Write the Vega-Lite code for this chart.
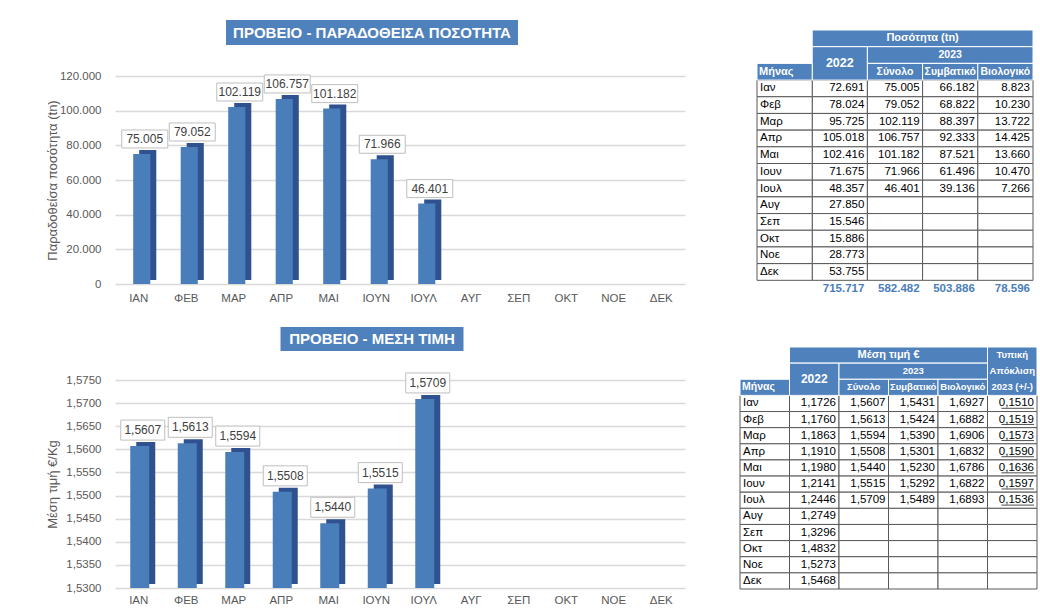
{
  "$schema": "https://vega.github.io/schema/vega-lite/v6.json",
  "background": "white",
  "padding": {"left": 46, "top": 20, "right": 0, "bottom": 0},
  "config": {
    "locale": {"number": {"decimal": ",", "thousands": ".", "grouping": [3], "currency": ["", "€"]}},
    "font": "Liberation Sans",
    "view": {"stroke": null},
    "axis": {"labelColor": "#595959", "titleColor": "#595959", "labelFontSize": 11.5, "titleFontSize": 13, "titleFontWeight": "normal", "domain": false, "ticks": false, "gridColor": "#d9d9d9", "gridWidth": 1.5}
  },
  "datasets": {
    "qty": [
      {"month": "ΙΑΝ", "value": 75005}, {"month": "ΦΕΒ", "value": 79052}, {"month": "ΜΑΡ", "value": 102119},
      {"month": "ΑΠΡ", "value": 106757}, {"month": "ΜΑΙ", "value": 101182}, {"month": "ΙΟΥΝ", "value": 71966},
      {"month": "ΙΟΥΛ", "value": 46401}
    ],
    "price": [
      {"month": "ΙΑΝ", "value": 1.5607}, {"month": "ΦΕΒ", "value": 1.5613}, {"month": "ΜΑΡ", "value": 1.5594},
      {"month": "ΑΠΡ", "value": 1.5508}, {"month": "ΜΑΙ", "value": 1.544}, {"month": "ΙΟΥΝ", "value": 1.5515},
      {"month": "ΙΟΥΛ", "value": 1.5709}
    ],
    "t1": [
      {"m": "Ιαν", "2022": 72691, "Σύνολο": 75005, "Συμβατικό": 66182, "Βιολογικό": 8823},
      {"m": "Φεβ", "2022": 78024, "Σύνολο": 79052, "Συμβατικό": 68822, "Βιολογικό": 10230},
      {"m": "Μαρ", "2022": 95725, "Σύνολο": 102119, "Συμβατικό": 88397, "Βιολογικό": 13722},
      {"m": "Απρ", "2022": 105018, "Σύνολο": 106757, "Συμβατικό": 92333, "Βιολογικό": 14425},
      {"m": "Μαι", "2022": 102416, "Σύνολο": 101182, "Συμβατικό": 87521, "Βιολογικό": 13660},
      {"m": "Ιουν", "2022": 71675, "Σύνολο": 71966, "Συμβατικό": 61496, "Βιολογικό": 10470},
      {"m": "Ιουλ", "2022": 48357, "Σύνολο": 46401, "Συμβατικό": 39136, "Βιολογικό": 7266},
      {"m": "Αυγ", "2022": 27850, "Σύνολο": null, "Συμβατικό": null, "Βιολογικό": null},
      {"m": "Σεπ", "2022": 15546, "Σύνολο": null, "Συμβατικό": null, "Βιολογικό": null},
      {"m": "Οκτ", "2022": 15886, "Σύνολο": null, "Συμβατικό": null, "Βιολογικό": null},
      {"m": "Νοε", "2022": 28773, "Σύνολο": null, "Συμβατικό": null, "Βιολογικό": null},
      {"m": "Δεκ", "2022": 53755, "Σύνολο": null, "Συμβατικό": null, "Βιολογικό": null}
    ],
    "t1tot": [
      {"col": "2022", "v": 715717}, {"col": "Σύνολο", "v": 582482}, {"col": "Συμβατικό", "v": 503886}, {"col": "Βιολογικό", "v": 78596}
    ],
    "t1head": [
      {"c1": "2022", "c2": "Βιολογικό", "r1": "h1", "r2": "h1"},
      {"c1": "2022", "c2": "2022", "r1": "h2", "r2": "h3"},
      {"c1": "Σύνολο", "c2": "Βιολογικό", "r1": "h2", "r2": "h2"},
      {"c1": "Μήνας", "c2": "Μήνας", "r1": "h3", "r2": "h3"},
      {"c1": "Σύνολο", "c2": "Σύνολο", "r1": "h3", "r2": "h3"},
      {"c1": "Συμβατικό", "c2": "Συμβατικό", "r1": "h3", "r2": "h3"},
      {"c1": "Βιολογικό", "c2": "Βιολογικό", "r1": "h3", "r2": "h3"}
    ],
    "t1htext": [
      {"label": "2023", "c": "Συμβατικό", "r": "h2"},
      {"label": "Σύνολο", "c": "Σύνολο", "r": "h3"},
      {"label": "Συμβατικό", "c": "Συμβατικό", "r": "h3"},
      {"label": "Βιολογικό", "c": "Βιολογικό", "r": "h3"}
    ],
    "t2": [
      {"m": "Ιαν", "2022": 1.1726, "Σύνολο": 1.5607, "Συμβατικό": 1.5431, "Βιολογικό": 1.6927, "Τυπική": 0.151},
      {"m": "Φεβ", "2022": 1.176, "Σύνολο": 1.5613, "Συμβατικό": 1.5424, "Βιολογικό": 1.6882, "Τυπική": 0.1519},
      {"m": "Μαρ", "2022": 1.1863, "Σύνολο": 1.5594, "Συμβατικό": 1.539, "Βιολογικό": 1.6906, "Τυπική": 0.1573},
      {"m": "Απρ", "2022": 1.191, "Σύνολο": 1.5508, "Συμβατικό": 1.5301, "Βιολογικό": 1.6832, "Τυπική": 0.159},
      {"m": "Μαι", "2022": 1.198, "Σύνολο": 1.544, "Συμβατικό": 1.523, "Βιολογικό": 1.6786, "Τυπική": 0.1636},
      {"m": "Ιουν", "2022": 1.2141, "Σύνολο": 1.5515, "Συμβατικό": 1.5292, "Βιολογικό": 1.6822, "Τυπική": 0.1597},
      {"m": "Ιουλ", "2022": 1.2446, "Σύνολο": 1.5709, "Συμβατικό": 1.5489, "Βιολογικό": 1.6893, "Τυπική": 0.1536},
      {"m": "Αυγ", "2022": 1.2749, "Σύνολο": null, "Συμβατικό": null, "Βιολογικό": null, "Τυπική": null},
      {"m": "Σεπ", "2022": 1.3296, "Σύνολο": null, "Συμβατικό": null, "Βιολογικό": null, "Τυπική": null},
      {"m": "Οκτ", "2022": 1.4832, "Σύνολο": null, "Συμβατικό": null, "Βιολογικό": null, "Τυπική": null},
      {"m": "Νοε", "2022": 1.5273, "Σύνολο": null, "Συμβατικό": null, "Βιολογικό": null, "Τυπική": null},
      {"m": "Δεκ", "2022": 1.5468, "Σύνολο": null, "Συμβατικό": null, "Βιολογικό": null, "Τυπική": null}
    ],
    "t2head": [
      {"c1": "2022", "c2": "Βιολογικό", "r1": "h1", "r2": "h1"},
      {"c1": "Τυπική", "c2": "Τυπική", "r1": "h1", "r2": "h3"},
      {"c1": "2022", "c2": "2022", "r1": "h2", "r2": "h3"},
      {"c1": "Σύνολο", "c2": "Βιολογικό", "r1": "h2", "r2": "h2"},
      {"c1": "Μήνας", "c2": "Μήνας", "r1": "h3", "r2": "h3"},
      {"c1": "Σύνολο", "c2": "Σύνολο", "r1": "h3", "r2": "h3"},
      {"c1": "Συμβατικό", "c2": "Συμβατικό", "r1": "h3", "r2": "h3"},
      {"c1": "Βιολογικό", "c2": "Βιολογικό", "r1": "h3", "r2": "h3"}
    ],
    "t2htext": [
      {"label": "2023", "c": "Συμβατικό", "r": "h2"},
      {"label": "Σύνολο", "c": "Σύνολο", "r": "h3"},
      {"label": "Συμβατικό", "c": "Συμβατικό", "r": "h3"},
      {"label": "Βιολογικό", "c": "Βιολογικό", "r": "h3"}
    ]
  },
  "spacing": 23,
  "vconcat": [
    {
      "spacing": 71,
      "hconcat": [
        {
          "bounds": "flush",
          "spacing": 31,
          "vconcat": [
            {
              "width": 514, "height": 25,
              "data": {"values": [{"t": "ΠΡΟΒΕΙΟ - ΠΑΡΑΔΟΘΕΙΣΑ ΠΟΣΟΤΗΤΑ"}]},
              "layer": [
                {"mark": {"type": "point", "shape": "M-1,-0.0856L1,-0.0856L1,0.0856L-1,0.0856Z", "size": 85264, "filled": true, "fill": "#4f81bd", "strokeWidth": 0, "opacity": 1}},
                {"mark": {"type": "text", "color": "white", "fontWeight": "bold", "fontSize": 15}, "encoding": {"text": {"field": "t"}}}
              ]
            },
            {
              "width": 570, "height": 208,
              "data": {"name": "qty"},
              "encoding": {
                "x": {"field": "month", "type": "nominal", "title": null,
                  "scale": {"domain": ["ΙΑΝ","ΦΕΒ","ΜΑΡ","ΑΠΡ","ΜΑΙ","ΙΟΥΝ","ΙΟΥΛ","ΑΥΓ","ΣΕΠ","ΟΚΤ","ΝΟΕ","ΔΕΚ"], "paddingInner": 0.64, "paddingOuter": 0.32},
                  "axis": {"labelAngle": 0, "labelPadding": 8, "grid": false}},
                "y": {"field": "value", "type": "quantitative", "title": "Παραδοθείσα ποσότητα (tn)",
                  "scale": {"domain": [0, 120000], "nice": false},
                  "axis": {"values": [0, 20000, 40000, 60000, 80000, 100000, 120000], "format": ",d", "labelPadding": 14, "minExtent": 46, "maxExtent": 46, "titlePadding": 10}}
              },
              "layer": [
                {"mark": {"type": "bar", "color": "#2f528f", "xOffset": 9, "yOffset": -4, "y2Offset": -4}},
                {"mark": {"type": "bar", "color": "#4a7ebb", "xOffset": 3}},
                {"mark": {"type": "point", "shape": "M-1,-0.391L1,-0.391L1,0.391L-1,0.391Z", "size": 2116, "filled": true, "fill": "white", "stroke": "#bfbfbf", "strokeWidth": 1, "opacity": 1, "xOffset": 6, "yOffset": -15}},
                {"mark": {"type": "text", "color": "#404040", "fontSize": 12, "xOffset": 6, "yOffset": -15}, "encoding": {"text": {"field": "value", "type": "quantitative", "format": ",d"}}}
              ]
            }
          ]
        },
        {
          "width": 276, "height": 277,
          "layer": [
            {"data": {"name": "t1"}, "transform": [{"fold": ["2022", "Σύνολο", "Συμβατικό", "Βιολογικό"], "as": ["col", "v"]}],
             "mark": {"type": "rect", "fill": "white", "stroke": "#595959", "strokeWidth": 1},
             "encoding": {
               "x": {"field": "col", "type": "nominal", "scale": {"domain": ["Μήνας","2022","Σύνολο","Συμβατικό","Βιολογικό"], "paddingInner": 0, "paddingOuter": 0}, "axis": null},
               "y": {"field": "m", "type": "nominal", "scale": {"domain": ["h1","h2","h3","Ιαν","Φεβ","Μαρ","Απρ","Μαι","Ιουν","Ιουλ","Αυγ","Σεπ","Οκτ","Νοε","Δεκ","tot"], "paddingInner": 0, "paddingOuter": 0.3, "align": 1}, "axis": null}}},
            {"data": {"name": "t1"},
             "mark": {"type": "rect", "fill": "white", "stroke": "#595959", "strokeWidth": 1},
             "encoding": {
               "x": {"datum": "Μήνας", "type": "nominal", "scale": {"domain": ["Μήνας","2022","Σύνολο","Συμβατικό","Βιολογικό"], "paddingInner": 0, "paddingOuter": 0}, "axis": null},
               "y": {"field": "m", "type": "nominal", "scale": {"domain": ["h1","h2","h3","Ιαν","Φεβ","Μαρ","Απρ","Μαι","Ιουν","Ιουλ","Αυγ","Σεπ","Οκτ","Νοε","Δεκ","tot"], "paddingInner": 0, "paddingOuter": 0.3, "align": 1}, "axis": null}}},
            {"data": {"name": "t1head"},
             "mark": {"type": "rect", "fill": "#4f81bd", "stroke": "white", "strokeWidth": 1},
             "encoding": {
               "x": {"field": "c1", "type": "nominal", "bandPosition": 0, "scale": {"domain": ["Μήνας","2022","Σύνολο","Συμβατικό","Βιολογικό"], "paddingInner": 0, "paddingOuter": 0}, "axis": null},
               "x2": {"field": "c2", "bandPosition": 1},
               "y": {"field": "r1", "type": "nominal", "bandPosition": 0, "scale": {"domain": ["h1","h2","h3","Ιαν","Φεβ","Μαρ","Απρ","Μαι","Ιουν","Ιουλ","Αυγ","Σεπ","Οκτ","Νοε","Δεκ","tot"], "paddingInner": 0, "paddingOuter": 0.3, "align": 1}, "axis": null},
               "y2": {"field": "r2", "bandPosition": 1}}},
            {"data": {"name": "t1"},
             "mark": {"type": "text", "align": "left", "dx": 3, "fontSize": 11.5, "color": "black"},
             "encoding": {
               "x": {"datum": "Μήνας", "type": "nominal", "bandPosition": 0, "scale": {"domain": ["Μήνας","2022","Σύνολο","Συμβατικό","Βιολογικό"], "paddingInner": 0, "paddingOuter": 0}, "axis": null},
               "y": {"field": "m", "type": "nominal", "scale": {"domain": ["h1","h2","h3","Ιαν","Φεβ","Μαρ","Απρ","Μαι","Ιουν","Ιουλ","Αυγ","Σεπ","Οκτ","Νοε","Δεκ","tot"], "paddingInner": 0, "paddingOuter": 0.3, "align": 1}, "axis": null},
               "text": {"field": "m"}}},
            {"data": {"name": "t1"}, "transform": [{"fold": ["2022", "Σύνολο", "Συμβατικό", "Βιολογικό"], "as": ["col", "v"]}, {"filter": "isValid(datum.v)"}],
             "mark": {"type": "text", "align": "right", "dx": -3, "fontSize": 11.5, "color": "black"},
             "encoding": {
               "x": {"field": "col", "type": "nominal", "bandPosition": 1, "scale": {"domain": ["Μήνας","2022","Σύνολο","Συμβατικό","Βιολογικό"], "paddingInner": 0, "paddingOuter": 0}, "axis": null},
               "y": {"field": "m", "type": "nominal", "scale": {"domain": ["h1","h2","h3","Ιαν","Φεβ","Μαρ","Απρ","Μαι","Ιουν","Ιουλ","Αυγ","Σεπ","Οκτ","Νοε","Δεκ","tot"], "paddingInner": 0, "paddingOuter": 0.3, "align": 1}, "axis": null},
               "text": {"field": "v", "type": "quantitative", "format": ",d"}}},
            {"data": {"name": "t1htext"},
             "mark": {"type": "text", "fontSize": 10.5, "fontWeight": "bold", "color": "white"},
             "encoding": {
               "x": {"field": "c", "type": "nominal", "scale": {"domain": ["Μήνας","2022","Σύνολο","Συμβατικό","Βιολογικό"], "paddingInner": 0, "paddingOuter": 0}, "axis": null},
               "y": {"field": "r", "type": "nominal", "scale": {"domain": ["h1","h2","h3","Ιαν","Φεβ","Μαρ","Απρ","Μαι","Ιουν","Ιουλ","Αυγ","Σεπ","Οκτ","Νοε","Δεκ","tot"], "paddingInner": 0, "paddingOuter": 0.3, "align": 1}, "axis": null},
               "text": {"field": "label"}}},
            {"data": {"values": [{"label": "Ποσότητα (tn)"}]},
             "mark": {"type": "text", "fontSize": 11, "fontWeight": "bold", "color": "white"},
             "encoding": {
               "x": {"datum": "Συμβατικό", "type": "nominal", "bandPosition": 0, "scale": {"domain": ["Μήνας","2022","Σύνολο","Συμβατικό","Βιολογικό"], "paddingInner": 0, "paddingOuter": 0}, "axis": null},
               "y": {"datum": "h1", "type": "nominal", "scale": {"domain": ["h1","h2","h3","Ιαν","Φεβ","Μαρ","Απρ","Μαι","Ιουν","Ιουλ","Αυγ","Σεπ","Οκτ","Νοε","Δεκ","tot"], "paddingInner": 0, "paddingOuter": 0.3, "align": 1}, "axis": null},
               "text": {"field": "label"}}},
            {"data": {"values": [{"label": "2022"}]},
             "mark": {"type": "text", "fontSize": 12.5, "fontWeight": "bold", "color": "white"},
             "encoding": {
               "x": {"datum": "2022", "type": "nominal", "scale": {"domain": ["Μήνας","2022","Σύνολο","Συμβατικό","Βιολογικό"], "paddingInner": 0, "paddingOuter": 0}, "axis": null},
               "y": {"datum": "h3", "type": "nominal", "bandPosition": 0, "scale": {"domain": ["h1","h2","h3","Ιαν","Φεβ","Μαρ","Απρ","Μαι","Ιουν","Ιουλ","Αυγ","Σεπ","Οκτ","Νοε","Δεκ","tot"], "paddingInner": 0, "paddingOuter": 0.3, "align": 1}, "axis": null},
               "text": {"field": "label"}}},
            {"data": {"values": [{"label": "Μήνας"}]},
             "mark": {"type": "text", "fontSize": 11, "fontWeight": "bold", "color": "white", "align": "left", "dx": 2},
             "encoding": {
               "x": {"datum": "Μήνας", "type": "nominal", "bandPosition": 0, "scale": {"domain": ["Μήνας","2022","Σύνολο","Συμβατικό","Βιολογικό"], "paddingInner": 0, "paddingOuter": 0}, "axis": null},
               "y": {"datum": "h3", "type": "nominal", "scale": {"domain": ["h1","h2","h3","Ιαν","Φεβ","Μαρ","Απρ","Μαι","Ιουν","Ιουλ","Αυγ","Σεπ","Οκτ","Νοε","Δεκ","tot"], "paddingInner": 0, "paddingOuter": 0.3, "align": 1}, "axis": null},
               "text": {"field": "label"}}},
            {"data": {"name": "t1tot"},
             "mark": {"type": "text", "align": "right", "dx": -3, "fontSize": 11.5, "fontWeight": "bold", "color": "#4a7ebb"},
             "encoding": {
               "x": {"field": "col", "type": "nominal", "bandPosition": 1, "scale": {"domain": ["Μήνας","2022","Σύνολο","Συμβατικό","Βιολογικό"], "paddingInner": 0, "paddingOuter": 0}, "axis": null},
               "y": {"datum": "tot", "type": "nominal", "scale": {"domain": ["h1","h2","h3","Ιαν","Φεβ","Μαρ","Απρ","Μαι","Ιουν","Ιουλ","Αυγ","Σεπ","Οκτ","Νοε","Δεκ","tot"], "paddingInner": 0, "paddingOuter": 0.3, "align": 1}, "axis": null},
               "text": {"field": "v", "type": "quantitative", "format": ",d"}}}
          ]
        }
      ]
    },
    {
      "spacing": 54,
      "hconcat": [
        {
          "bounds": "flush",
          "spacing": 29,
          "vconcat": [
            {
              "width": 514, "height": 24,
              "data": {"values": [{"t": "ΠΡΟΒΕΙΟ - ΜΕΣΗ ΤΙΜΗ"}]},
              "layer": [
                {"mark": {"type": "point", "shape": "M-1,-0.1311L1,-0.1311L1,0.1311L-1,0.1311Z", "size": 33489, "filled": true, "fill": "#4f81bd", "strokeWidth": 0, "opacity": 1}},
                {"mark": {"type": "text", "color": "white", "fontWeight": "bold", "fontSize": 15}, "encoding": {"text": {"field": "t"}}}
              ]
            },
            {
              "width": 570, "height": 208,
              "data": {"name": "price"},
              "encoding": {
                "x": {"field": "month", "type": "nominal", "title": null,
                  "scale": {"domain": ["ΙΑΝ","ΦΕΒ","ΜΑΡ","ΑΠΡ","ΜΑΙ","ΙΟΥΝ","ΙΟΥΛ","ΑΥΓ","ΣΕΠ","ΟΚΤ","ΝΟΕ","ΔΕΚ"], "paddingInner": 0.6, "paddingOuter": 0.3},
                  "axis": {"labelAngle": 0, "labelPadding": 6, "grid": false}},
                "y": {"field": "value", "type": "quantitative", "title": "Μέση τιμή €/Kg",
                  "scale": {"domain": [1.53, 1.575], "nice": false, "zero": false},
                  "axis": {"values": [1.53, 1.535, 1.54, 1.545, 1.55, 1.555, 1.56, 1.565, 1.57, 1.575], "format": ".4f", "labelPadding": 14, "minExtent": 46, "maxExtent": 46, "titlePadding": 10}}
              },
              "layer": [
                {"mark": {"type": "bar", "color": "#2f528f", "xOffset": 7, "yOffset": -4, "y2Offset": -4}, "encoding": {"y2": {"datum": 1.53}}},
                {"mark": {"type": "bar", "color": "#4a7ebb", "xOffset": 1}, "encoding": {"y2": {"datum": 1.53}}},
                {"mark": {"type": "point", "shape": "M-1,-0.4545L1,-0.4545L1,0.4545L-1,0.4545Z", "size": 1936, "filled": true, "fill": "white", "stroke": "#bfbfbf", "strokeWidth": 1, "opacity": 1, "xOffset": 4, "yOffset": -16}},
                {"mark": {"type": "text", "color": "#404040", "fontSize": 12, "xOffset": 4, "yOffset": -16}, "encoding": {"text": {"field": "value", "type": "quantitative", "format": ".4f"}}}
              ]
            }
          ]
        },
        {
          "width": 297, "height": 262,
          "layer": [
            {"data": {"name": "t2"}, "transform": [{"fold": ["2022", "Σύνολο", "Συμβατικό", "Βιολογικό", "Τυπική"], "as": ["col", "v"]}],
             "mark": {"type": "rect", "fill": "white", "stroke": "#595959", "strokeWidth": 1},
             "encoding": {
               "x": {"field": "col", "type": "nominal", "scale": {"domain": ["Μήνας","2022","Σύνολο","Συμβατικό","Βιολογικό","Τυπική"], "paddingInner": 0, "paddingOuter": 0}, "axis": null},
               "y": {"field": "m", "type": "nominal", "scale": {"domain": ["h1","h2","h3","Ιαν","Φεβ","Μαρ","Απρ","Μαι","Ιουν","Ιουλ","Αυγ","Σεπ","Οκτ","Νοε","Δεκ"], "paddingInner": 0, "paddingOuter": 0.62, "align": 1}, "axis": null}}},
            {"data": {"name": "t2"},
             "mark": {"type": "rect", "fill": "white", "stroke": "#595959", "strokeWidth": 1},
             "encoding": {
               "x": {"datum": "Μήνας", "type": "nominal", "scale": {"domain": ["Μήνας","2022","Σύνολο","Συμβατικό","Βιολογικό","Τυπική"], "paddingInner": 0, "paddingOuter": 0}, "axis": null},
               "y": {"field": "m", "type": "nominal", "scale": {"domain": ["h1","h2","h3","Ιαν","Φεβ","Μαρ","Απρ","Μαι","Ιουν","Ιουλ","Αυγ","Σεπ","Οκτ","Νοε","Δεκ"], "paddingInner": 0, "paddingOuter": 0.62, "align": 1}, "axis": null}}},
            {"data": {"name": "t2head"},
             "mark": {"type": "rect", "fill": "#4f81bd", "stroke": "white", "strokeWidth": 1},
             "encoding": {
               "x": {"field": "c1", "type": "nominal", "bandPosition": 0, "scale": {"domain": ["Μήνας","2022","Σύνολο","Συμβατικό","Βιολογικό","Τυπική"], "paddingInner": 0, "paddingOuter": 0}, "axis": null},
               "x2": {"field": "c2", "bandPosition": 1},
               "y": {"field": "r1", "type": "nominal", "bandPosition": 0, "scale": {"domain": ["h1","h2","h3","Ιαν","Φεβ","Μαρ","Απρ","Μαι","Ιουν","Ιουλ","Αυγ","Σεπ","Οκτ","Νοε","Δεκ"], "paddingInner": 0, "paddingOuter": 0.62, "align": 1}, "axis": null},
               "y2": {"field": "r2", "bandPosition": 1}}},
            {"data": {"name": "t2"},
             "mark": {"type": "text", "align": "left", "dx": 3, "fontSize": 11.5, "color": "black"},
             "encoding": {
               "x": {"datum": "Μήνας", "type": "nominal", "bandPosition": 0, "scale": {"domain": ["Μήνας","2022","Σύνολο","Συμβατικό","Βιολογικό","Τυπική"], "paddingInner": 0, "paddingOuter": 0}, "axis": null},
               "y": {"field": "m", "type": "nominal", "scale": {"domain": ["h1","h2","h3","Ιαν","Φεβ","Μαρ","Απρ","Μαι","Ιουν","Ιουλ","Αυγ","Σεπ","Οκτ","Νοε","Δεκ"], "paddingInner": 0, "paddingOuter": 0.62, "align": 1}, "axis": null},
               "text": {"field": "m"}}},
            {"data": {"name": "t2"}, "transform": [{"fold": ["2022", "Σύνολο", "Συμβατικό", "Βιολογικό", "Τυπική"], "as": ["col", "v"]}, {"filter": "isValid(datum.v)"}],
             "mark": {"type": "text", "align": "right", "dx": -3, "fontSize": 11.5, "color": "black"},
             "encoding": {
               "x": {"field": "col", "type": "nominal", "bandPosition": 1, "scale": {"domain": ["Μήνας","2022","Σύνολο","Συμβατικό","Βιολογικό","Τυπική"], "paddingInner": 0, "paddingOuter": 0}, "axis": null},
               "y": {"field": "m", "type": "nominal", "scale": {"domain": ["h1","h2","h3","Ιαν","Φεβ","Μαρ","Απρ","Μαι","Ιουν","Ιουλ","Αυγ","Σεπ","Οκτ","Νοε","Δεκ"], "paddingInner": 0, "paddingOuter": 0.62, "align": 1}, "axis": null},
               "text": {"field": "v", "type": "quantitative", "format": ".4f"}}},
            {"data": {"name": "t2"}, "transform": [{"filter": "isValid(datum['Τυπική'])"}],
             "mark": {"type": "rule", "color": "#222222", "strokeWidth": 0.8},
             "encoding": {
               "x": {"datum": "Τυπική", "type": "nominal", "bandPosition": 0.28, "scale": {"domain": ["Μήνας","2022","Σύνολο","Συμβατικό","Βιολογικό","Τυπική"], "paddingInner": 0, "paddingOuter": 0}, "axis": null},
               "x2": {"datum": "Τυπική", "bandPosition": 0.94},
               "y": {"field": "m", "type": "nominal", "bandPosition": 0.8, "scale": {"domain": ["h1","h2","h3","Ιαν","Φεβ","Μαρ","Απρ","Μαι","Ιουν","Ιουλ","Αυγ","Σεπ","Οκτ","Νοε","Δεκ"], "paddingInner": 0, "paddingOuter": 0.62, "align": 1}, "axis": null}}},
            {"data": {"name": "t2htext"},
             "mark": {"type": "text", "fontSize": 9.5, "fontWeight": "bold", "color": "white"},
             "encoding": {
               "x": {"field": "c", "type": "nominal", "scale": {"domain": ["Μήνας","2022","Σύνολο","Συμβατικό","Βιολογικό","Τυπική"], "paddingInner": 0, "paddingOuter": 0}, "axis": null},
               "y": {"field": "r", "type": "nominal", "scale": {"domain": ["h1","h2","h3","Ιαν","Φεβ","Μαρ","Απρ","Μαι","Ιουν","Ιουλ","Αυγ","Σεπ","Οκτ","Νοε","Δεκ"], "paddingInner": 0, "paddingOuter": 0.62, "align": 1}, "axis": null},
               "text": {"field": "label"}}},
            {"data": {"values": [{"label": "Μέση τιμή €"}]},
             "mark": {"type": "text", "fontSize": 11, "fontWeight": "bold", "color": "white"},
             "encoding": {
               "x": {"datum": "Συμβατικό", "type": "nominal", "bandPosition": 0, "scale": {"domain": ["Μήνας","2022","Σύνολο","Συμβατικό","Βιολογικό","Τυπική"], "paddingInner": 0, "paddingOuter": 0}, "axis": null},
               "y": {"datum": "h1", "type": "nominal", "scale": {"domain": ["h1","h2","h3","Ιαν","Φεβ","Μαρ","Απρ","Μαι","Ιουν","Ιουλ","Αυγ","Σεπ","Οκτ","Νοε","Δεκ"], "paddingInner": 0, "paddingOuter": 0.62, "align": 1}, "axis": null},
               "text": {"field": "label"}}},
            {"data": {"values": [{"label": "2022"}]},
             "mark": {"type": "text", "fontSize": 12, "fontWeight": "bold", "color": "white"},
             "encoding": {
               "x": {"datum": "2022", "type": "nominal", "scale": {"domain": ["Μήνας","2022","Σύνολο","Συμβατικό","Βιολογικό","Τυπική"], "paddingInner": 0, "paddingOuter": 0}, "axis": null},
               "y": {"datum": "h3", "type": "nominal", "bandPosition": 0, "scale": {"domain": ["h1","h2","h3","Ιαν","Φεβ","Μαρ","Απρ","Μαι","Ιουν","Ιουλ","Αυγ","Σεπ","Οκτ","Νοε","Δεκ"], "paddingInner": 0, "paddingOuter": 0.62, "align": 1}, "axis": null},
               "text": {"field": "label"}}},
            {"data": {"values": [{"label": "Μήνας"}]},
             "mark": {"type": "text", "fontSize": 10.5, "fontWeight": "bold", "color": "white", "align": "left", "dx": 2},
             "encoding": {
               "x": {"datum": "Μήνας", "type": "nominal", "bandPosition": 0, "scale": {"domain": ["Μήνας","2022","Σύνολο","Συμβατικό","Βιολογικό","Τυπική"], "paddingInner": 0, "paddingOuter": 0}, "axis": null},
               "y": {"datum": "h3", "type": "nominal", "scale": {"domain": ["h1","h2","h3","Ιαν","Φεβ","Μαρ","Απρ","Μαι","Ιουν","Ιουλ","Αυγ","Σεπ","Οκτ","Νοε","Δεκ"], "paddingInner": 0, "paddingOuter": 0.62, "align": 1}, "axis": null},
               "text": {"field": "label"}}},
            {"data": {"values": [{"label": ["Τυπική", "Απόκλιση", "2023 (+/-)"]}]},
             "mark": {"type": "text", "fontSize": 9.5, "fontWeight": "bold", "color": "white", "lineHeight": 16.13},
             "encoding": {
               "x": {"datum": "Τυπική", "type": "nominal", "scale": {"domain": ["Μήνας","2022","Σύνολο","Συμβατικό","Βιολογικό","Τυπική"], "paddingInner": 0, "paddingOuter": 0}, "axis": null},
               "y": {"datum": "h1", "type": "nominal", "scale": {"domain": ["h1","h2","h3","Ιαν","Φεβ","Μαρ","Απρ","Μαι","Ιουν","Ιουλ","Αυγ","Σεπ","Οκτ","Νοε","Δεκ"], "paddingInner": 0, "paddingOuter": 0.62, "align": 1}, "axis": null},
               "text": {"field": "label"}}}
          ]
        }
      ]
    }
  ]
}
